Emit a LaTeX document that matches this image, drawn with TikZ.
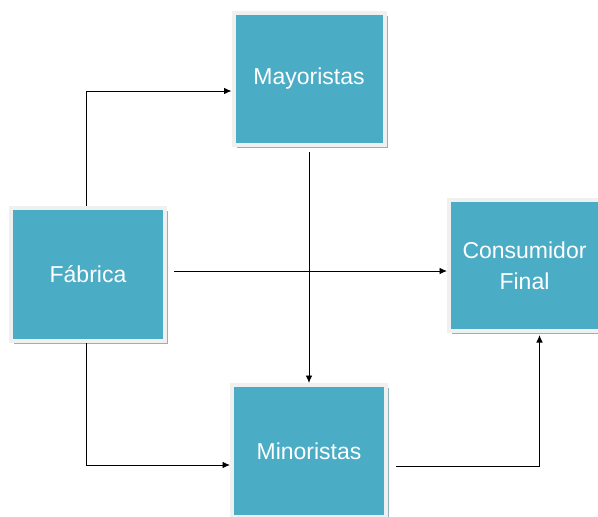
\documentclass[tikz,border=0pt]{standalone}
\usepackage{fontspec}
\setmainfont{Liberation Sans}
\usetikzlibrary{arrows.meta,shadows}
\definecolor{boxblue}{HTML}{4BACC6}
\definecolor{boxrim}{HTML}{F0F0F0}
\definecolor{boxshadow}{HTML}{8FB2BD}
\begin{document}
\begin{tikzpicture}[x=1pt,y=-1pt,
  blockbox/.style={rectangle, fill=boxblue, draw=boxrim, line width=4pt,
    text=white, align=center, font=\fontsize{23}{31}\selectfont,
    inner sep=0pt,
    drop shadow={shadow xshift=3pt, shadow yshift=-3pt, fill=boxshadow, opacity=1}},
  arr/.style={draw=black, line width=0.9pt, -{Latex[length=7.5pt,width=6.5pt]}}
]
\useasboundingbox (0,0) rectangle (598,517);
\clip (0,0) rectangle (598,517);
\node[blockbox, minimum width=154pt, minimum height=133pt] (fab) at (88,274.5) {Fábrica};
\node[blockbox, minimum width=151pt, minimum height=132pt] (may) at (309,79) {Mayoristas};
\node[blockbox, minimum width=151pt, minimum height=131pt] (cons) at (524.5,265.5) {Consumidor\\Final};
\node[blockbox, minimum width=154pt, minimum height=132pt] (min) at (309,451) {Minoristas};
\coordinate (fabtop) at ([xshift=-2pt]fab.north);
\coordinate (fabbot) at ([xshift=-2pt]fab.south);
\coordinate (fabr) at ([yshift=3.5pt]fab.east);
\draw[arr] (fabtop) |- ([yshift=-12pt]may.west);
\draw[arr] (fabbot) |- ([yshift=-14pt]min.west);
\draw[arr, shorten <=7pt] (fabr) -- (fabr -| cons.west);
\draw[arr, shorten <=5pt] (may.south) -- (may.south |- min.north);
\draw[arr, shorten <=8pt, shorten >=2pt] ([yshift=-15pt]min.east) -| ([xshift=15pt]cons.south);
\end{tikzpicture}
\end{document}
